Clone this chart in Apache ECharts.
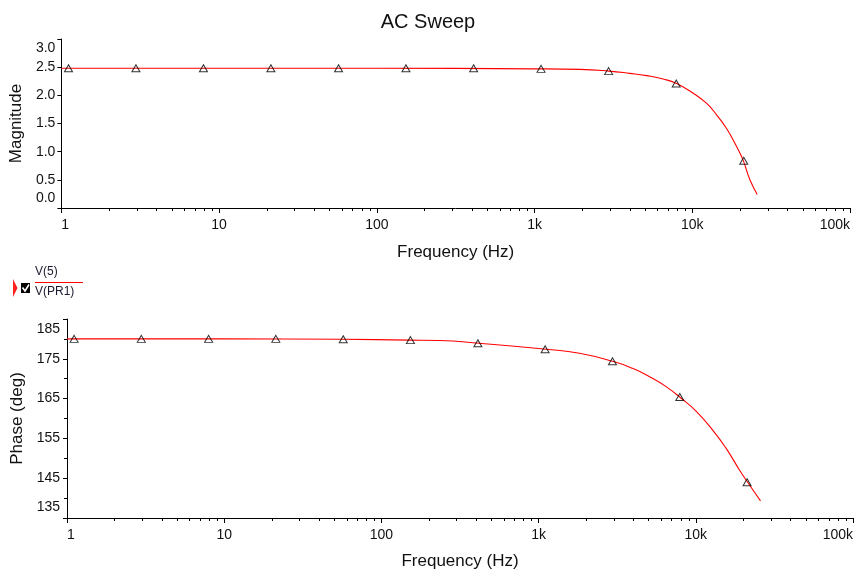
<!DOCTYPE html>
<html>
<head>
<meta charset="utf-8">
<title>AC Sweep</title>
<script src="https://cdn.jsdelivr.net/npm/echarts@6/dist/echarts.min.js"></script>
<style>
  html, body { margin: 0; padding: 0; background: #ffffff; }
  #chart { width: 856px; height: 574px; }
</style>
</head>
<body>
<div id="chart"></div>
<script>
// Magnitude of V(5)/V(PR1) along the sweep (Hz, V/V)
const magFreq  = [1, 10, 100, 1000, 1940, 2960, 4020, 5130, 6540, 7950, 10100, 12300, 14300, 16500, 19100, 21000, 23200, 25800];
const magValue = [2.48, 2.48, 2.48, 2.47, 2.46, 2.43, 2.39, 2.35, 2.29, 2.21, 2.04, 1.86, 1.65, 1.41, 1.09, 0.85, 0.50, 0.24];

// Phase of V(5)/V(PR1) along the sweep (Hz, degrees)
const phaseFreq  = [1, 10, 57, 150, 233, 420, 1120, 1820, 3000, 3960, 5070, 6470, 8060, 10000, 12800, 15600, 19000, 21700, 25800];
const phaseValue = [180, 180, 179.9, 179.7, 179.6, 178.9, 177.4, 176.4, 174.3, 172.6, 170.5, 168.0, 165.1, 161.9, 157.1, 152.5, 147.0, 143.6, 139.3];

// Trace marker points (triangles)
const markerFreq  = [1.11, 2.97, 7.96, 21.3, 57.2, 153, 411, 1100, 2950, 7910, 21200];
const markerMag   = [2.48, 2.48, 2.48, 2.48, 2.48, 2.48, 2.48, 2.47, 2.43, 2.21, 0.84];
const markerPhase = [180, 180, 180, 180, 179.9, 179.7, 178.9, 177.4, 174.4, 165.4, 144.0];

// Axis tick labels
const decadeTicks  = [1, 10, 100, 1000, 10000, 100000];
const decadeLabels = ['1', '10', '100', '1k', '10k', '100k'];
const minorTickFreqs = [
  2, 3, 4, 5, 6, 7, 8, 9,
  20, 30, 40, 50, 60, 70, 80, 90,
  200, 300, 400, 500, 600, 700, 800, 900,
  2000, 3000, 4000, 5000, 6000, 7000, 8000, 9000,
  20000, 30000, 40000, 50000, 60000, 70000, 80000, 90000
];

const FONT = '"Liberation Sans", Arial, sans-serif';
const INK = '#111111';

function freqLabel(v) {
  for (let i = 0; i < decadeTicks.length; i++) {
    if (Math.abs(v - decadeTicks[i]) / decadeTicks[i] < 1e-6) return decadeLabels[i];
  }
  return '';
}

function pairs(xs, ys) { return xs.map((x, i) => [x, ys[i]]); }

// End labels of a value axis are tucked inward, away from the corners
function valueLabel(min, max, digits, padLo, padHi) {
  return {
    formatter: function (v) {
      const s = v.toFixed(digits);
      if (Math.abs(v - min) < 1e-9) return '{lo|' + s + '}';
      if (Math.abs(v - max) < 1e-9) return '{hi|' + s + '}';
      return s;
    },
    rich: {
      lo: { fontFamily: FONT, fontSize: 14, color: INK, padding: [0, 0, padLo, 0] },
      hi: { fontFamily: FONT, fontSize: 14, color: INK, padding: [padHi, 0, 0, 0] }
    }
  };
}

function xAxisFor(gridIndex, gap) {
  return {
    type: 'log', logBase: 10, gridIndex: gridIndex,
    min: 1, max: 100000,
    name: 'Frequency (Hz)', nameLocation: 'middle', nameGap: gap,
    nameTextStyle: { fontFamily: FONT, fontSize: 17, color: INK },
    axisLine: { show: true, onZero: false, lineStyle: { color: '#000', width: 1 } },
    axisTick: { show: true, length: 5, lineStyle: { color: '#000' } },
    splitLine: { show: false },
    axisLabel: {
      fontFamily: FONT, fontSize: 14, color: INK, margin: 10,
      formatter: freqLabel, alignMinLabel: 'left', alignMaxLabel: 'right'
    }
  };
}

// Short minor ticks at 2..9 of every decade, placed through the log axis
function minorTickSeries(xAxisIndex, yAxisIndex, yBase) {
  return {
    type: 'custom', xAxisIndex: xAxisIndex, yAxisIndex: yAxisIndex,
    silent: true, clip: false, z: 1,
    data: minorTickFreqs.map(f => [f, yBase]),
    renderItem: function (params, api) {
      const p = api.coord([api.value(0), api.value(1)]);
      return {
        type: 'line',
        shape: { x1: Math.round(p[0]) + 0.5, y1: p[1], x2: Math.round(p[0]) + 0.5, y2: p[1] + 3 },
        style: { stroke: '#000', lineWidth: 1 }
      };
    }
  };
}

const magLabel = valueLabel(0, 3, 1, 3, 2);
const phaseLabel = valueLabel(135, 185, 0, 4, 3);

const chart = echarts.init(document.getElementById('chart'), null, { renderer: 'canvas' });

chart.setOption({
  backgroundColor: '#ffffff',
  animation: false,
  title: {
    text: 'AC Sweep', left: 'center', top: 7,
    textStyle: { fontFamily: FONT, fontSize: 20, fontWeight: 'normal', color: INK }
  },
  grid: [
    { left: 61, right: 6, top: 39, bottom: 366 },
    { left: 67, right: 3, top: 319, bottom: 56 }
  ],
  xAxis: [xAxisFor(0, 36), xAxisFor(1, 35)],
  yAxis: [
    {
      type: 'value', gridIndex: 0, min: 0, max: 3, interval: 0.5,
      name: 'Magnitude', nameLocation: 'middle', nameGap: 31,
      nameTextStyle: { fontFamily: FONT, fontSize: 17, color: INK },
      axisLine: { show: true, lineStyle: { color: '#000', width: 1 } },
      axisTick: { show: true, length: 4, lineStyle: { color: '#000' } },
      splitLine: { show: false },
      axisLabel: {
        fontFamily: FONT, fontSize: 14, color: INK, margin: 6,
        formatter: magLabel.formatter, rich: magLabel.rich,
        verticalAlignMinLabel: 'bottom', verticalAlignMaxLabel: 'top'
      }
    },
    {
      type: 'value', gridIndex: 1, min: 135, max: 185, interval: 10,
      name: 'Phase (deg)', nameLocation: 'middle', nameGap: 38,
      nameTextStyle: { fontFamily: FONT, fontSize: 17, color: INK },
      axisLine: { show: true, lineStyle: { color: '#000', width: 1 } },
      axisTick: { show: true, length: 4, lineStyle: { color: '#000' } },
      minorTick: { show: true, splitNumber: 2, length: 3, lineStyle: { color: '#000' } },
      splitLine: { show: false },
      axisLabel: {
        fontFamily: FONT, fontSize: 14, color: INK, margin: 7,
        formatter: phaseLabel.formatter, rich: phaseLabel.rich,
        verticalAlignMinLabel: 'bottom', verticalAlignMaxLabel: 'top'
      }
    }
  ],
  series: [
    {
      name: 'Magnitude', type: 'line', xAxisIndex: 0, yAxisIndex: 0,
      data: pairs(magFreq, magValue),
      smooth: 0.5, showSymbol: false,
      lineStyle: { color: '#ff0000', width: 1.1 }, z: 2
    },
    {
      name: 'Magnitude markers', type: 'scatter', xAxisIndex: 0, yAxisIndex: 0,
      data: pairs(markerFreq, markerMag),
      symbol: 'triangle', symbolSize: [8, 7],
      itemStyle: { color: 'rgba(255,255,255,0)', borderColor: '#000', borderWidth: 1 }, z: 3
    },
    {
      name: 'Phase', type: 'line', xAxisIndex: 1, yAxisIndex: 1,
      data: pairs(phaseFreq, phaseValue),
      smooth: 0.5, showSymbol: false,
      lineStyle: { color: '#ff0000', width: 1.1 }, z: 2
    },
    {
      name: 'Phase markers', type: 'scatter', xAxisIndex: 1, yAxisIndex: 1,
      data: pairs(markerFreq, markerPhase),
      symbol: 'triangle', symbolSize: [8, 7],
      itemStyle: { color: 'rgba(255,255,255,0)', borderColor: '#000', borderWidth: 1 }, z: 3
    },
    minorTickSeries(0, 0, 0),
    minorTickSeries(1, 1, 135)
  ],
  graphic: [
    // trace selector pointer
    { type: 'polygon', shape: { points: [[13, 279], [17.5, 288], [13, 297]] }, style: { fill: '#ff2020' } },
    // checked box
    { type: 'rect', shape: { x: 21, y: 283, width: 9, height: 10 }, style: { fill: '#000' } },
    { type: 'polyline', shape: { points: [[22.5, 287.5], [25, 291], [29, 284.5]] }, style: { stroke: '#fff', lineWidth: 1.6, fill: null } },
    // trace name as a ratio
    { type: 'text', x: 35, y: 266, style: { text: 'V(5)', fontFamily: FONT, fontSize: 12, fill: '#1a1a2e' } },
    { type: 'line', shape: { x1: 35, y1: 282.5, x2: 83, y2: 282.5 }, style: { stroke: '#ff0000', lineWidth: 1 } },
    { type: 'text', x: 35, y: 286, style: { text: 'V(PR1)', fontFamily: FONT, fontSize: 12, fill: '#1a1a2e' } }
  ]
});
</script>
</body>
</html>
